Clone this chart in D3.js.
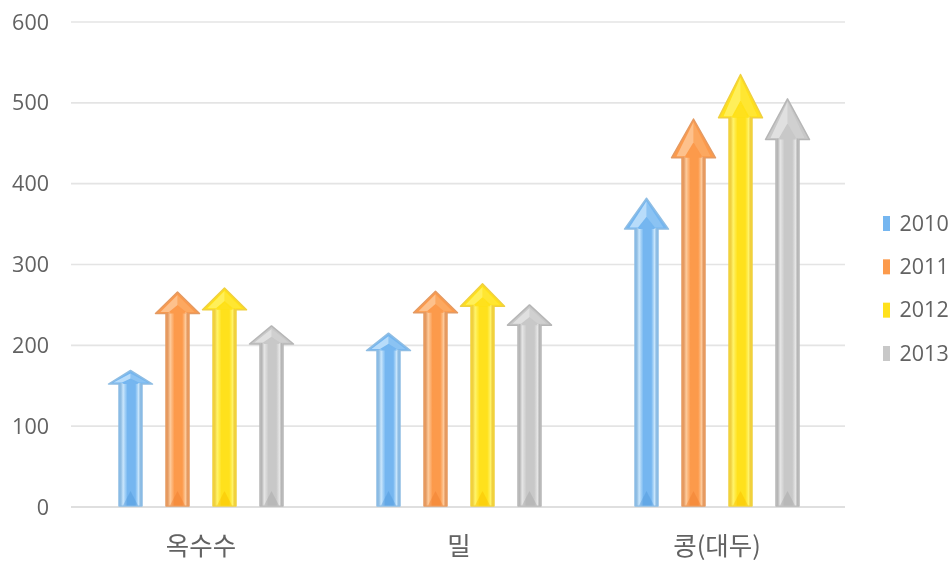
<!DOCTYPE html>
<html><head><meta charset="utf-8">
<script src="https://cdn.jsdelivr.net/npm/d3@7/dist/d3.min.js"></script>
<style>html,body{margin:0;padding:0;background:#fff;overflow:hidden}svg{display:block}
text{font-family:"Open Sans","Noto Sans CJK KR",sans-serif;fill:#626262}
.ko{font-family:"Noto Sans CJK KR",sans-serif}</style></head>
<body><svg id="c" width="952" height="563"></svg>
<script>
const categories=["옥수수","밀","콩(대두)"];
const seriesNames=["2010","2011","2012","2013"];
const v2010=[169,215,382];
const v2011=[266,267,480];
const v2012=[271,276,535];
const v2013=[224,250,505];
const yTicks=[0,100,200,300,400,500,600];
const seriesValues=[v2010,v2011,v2012,v2013];
const palette=[
 {main:"#74b6f0",light:"#c9e6fc",edge:"#8fbde3",dark:"#4f97d8"},
 {main:"#fc9a4c",light:"#fdcb9c",edge:"#e49a62",dark:"#ee7d2a"},
 {main:"#ffe11a",light:"#fff36a",edge:"#f0d040",dark:"#f8bd00"},
 {main:"#c8c8c8",light:"#e6e6e6",edge:"#b6b6b6",dark:"#a2a2a2"}];

const svg=d3.select("#c");
const x0=d3.scaleBand().domain(categories).range([72,846]);
const x1=d3.scaleBand().domain(seriesNames).range([0,188]);
const y=d3.scaleLinear().domain([0,600]).range([507,22]);
const defs=svg.append("defs");
palette.forEach((p,i)=>{
  const g=defs.append("linearGradient").attr("id","sh"+i);
  [[0,p.edge],[.05,p.edge],[.16,p.light],[.36,p.main],[.72,p.main],[.88,p.light],[.95,p.edge],[1,p.edge]].forEach(s=>g.append("stop").attr("offset",s[0]).attr("stop-color",s[1]));
});
defs.append("filter").attr("id","soft").append("feGaussianBlur").attr("stdDeviation",0.6);
defs.append("filter").attr("id","softT").append("feGaussianBlur").attr("stdDeviation",0.35);

// grid
svg.append("g").selectAll("line").data(yTicks).join("line")
 .attr("x1",71).attr("x2",845).attr("y1",d=>y(d)).attr("y2",d=>y(d))
 .attr("stroke",d=>d===0?"#d4d4d4":"#e4e4e4").attr("stroke-width",1.6);
const txt=svg.append("g").attr("filter","url(#softT)");
// y labels
txt.append("g").selectAll("text").data(yTicks).join("text")
 .attr("x",49).attr("y",d=>y(d)+7.5).attr("text-anchor","end").attr("font-size",21.5).text(d=>d);
// x labels
txt.append("g").selectAll("text").data(categories).join("text").attr("class","ko")
 .attr("x",d=>x0(d)+x0.bandwidth()/2).attr("y",555).attr("text-anchor","middle").attr("font-size",25.5).text(d=>d);

const shaftW=23,headW=44;
const arrows=svg.append("g").attr("filter","url(#soft)");
const line=d3.line();
seriesNames.forEach((s,si)=>{
  const p=palette[si];
  categories.forEach((c,ci)=>{
    const val=seriesValues[si][ci];
    const cx=x0(c)+x0.bandwidth()/2-94+x1(s)+x1.bandwidth()/2;
    const tip=y(val), base=y(val*0.9), foot=y(0)-1;
    const hh=base-tip;
    const g=arrows.append("g");
    g.append("path").attr("d",line([[cx,tip],[cx+headW/2,base],[cx+shaftW/2,base],[cx+shaftW/2,foot],[cx-shaftW/2,foot],[cx-shaftW/2,base],[cx-headW/2,base]])+"Z")
      .attr("fill",p.main).attr("stroke",p.edge).attr("stroke-width",1.5).attr("stroke-linejoin","round");
    g.append("path").attr("d",line([[cx,tip+3],[cx-headW/2+5,base-1.5],[cx-shaftW/2+3,base-1.5],[cx,tip+hh*.6]])+"Z")
      .attr("fill",p.light).attr("opacity",.8);
    g.append("path").attr("d",line([[cx,tip+3],[cx+headW/2-5,base-1.5],[cx+shaftW/2-3,base-1.5],[cx,tip+hh*.6]])+"Z")
      .attr("fill",p.light).attr("opacity",.28);
    g.append("rect").attr("x",cx-shaftW/2+.8).attr("width",shaftW-1.6).attr("y",base-1).attr("height",foot-base+.5)
      .attr("fill",`url(#sh${si})`);
    g.append("path").attr("d",line([[cx-shaftW/2+3,base],[cx,tip+hh*.66],[cx+shaftW/2-3,base]])+"Z")
      .attr("fill",p.main);
    g.append("path").attr("d",line([[cx-shaftW/2+4,foot-.5],[cx,foot-15],[cx+shaftW/2-4,foot-.5]])+"Z")
      .attr("fill",p.dark).attr("opacity",.42);
  });
});
// legend
const ly=d3.scalePoint().domain(seriesNames).range([223,353]);
const lg=svg.append("g").selectAll("g").data(seriesNames).join("g");
lg.append("rect").attr("x",883).attr("width",7).attr("y",d=>ly(d)-7).attr("height",15)
  .attr("fill",(d,i)=>palette[i].main).attr("filter","url(#soft)");
lg.append("text").attr("x",899.5).attr("y",d=>ly(d)+7.5).attr("font-size",21.5).attr("filter","url(#softT)").text(d=>d);
</script></body></html>
